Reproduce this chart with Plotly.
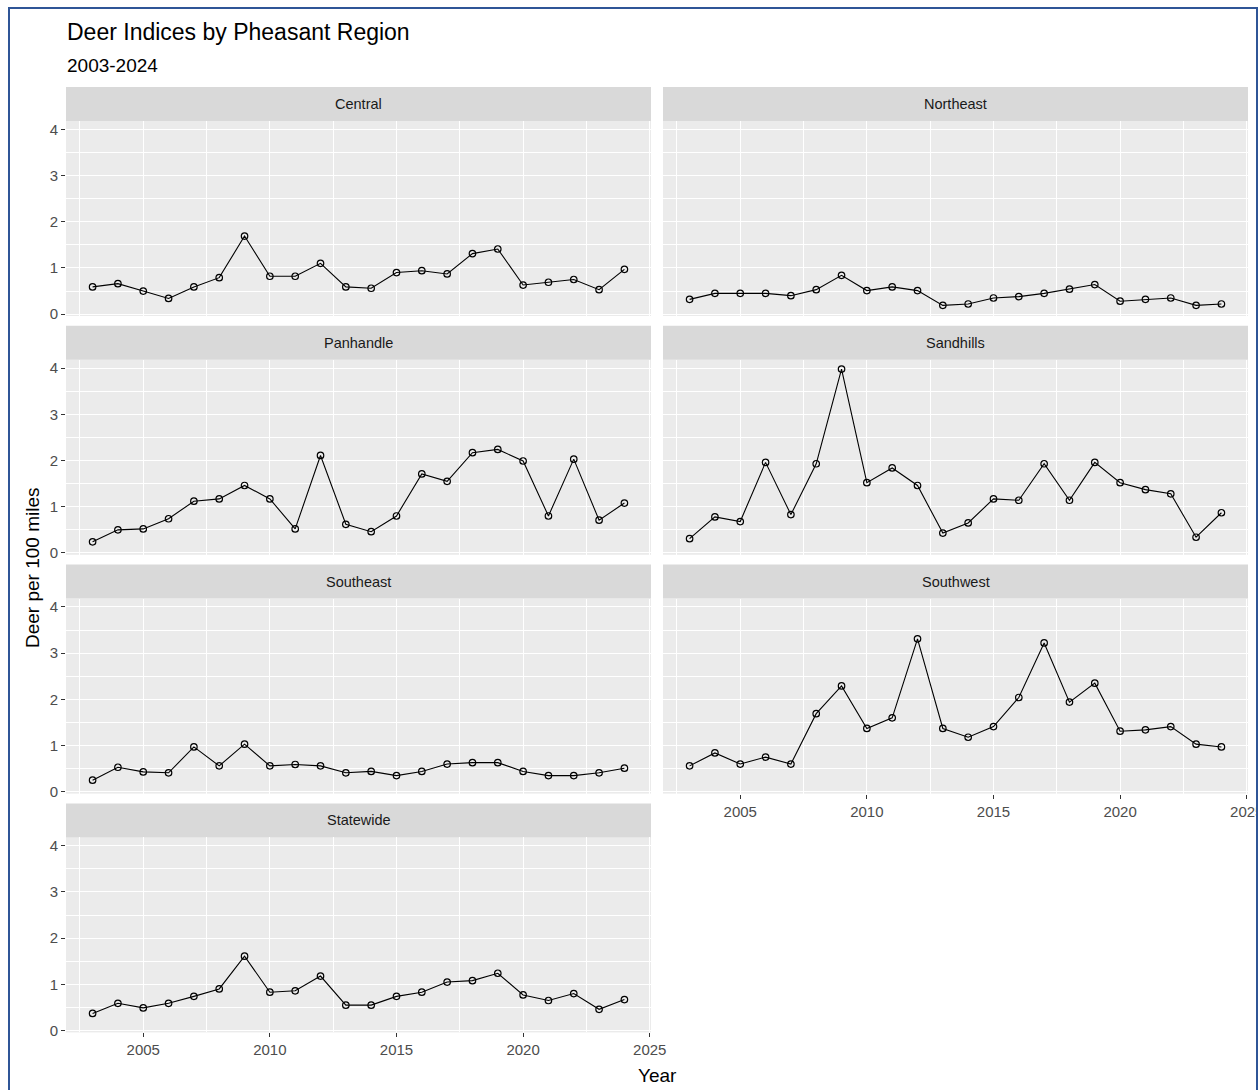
import plotly.graph_objects as go

# Survey years and deer indices (deer per 100 miles) by pheasant region
years = list(range(2003, 2025))

central = [0.59, 0.66, 0.50, 0.34, 0.59, 0.79, 1.69, 0.82, 0.82, 1.10, 0.59,
           0.56, 0.90, 0.94, 0.87, 1.31, 1.41, 0.63, 0.69, 0.75, 0.53, 0.97]
northeast = [0.32, 0.45, 0.45, 0.45, 0.40, 0.53, 0.84, 0.51, 0.59, 0.51, 0.19,
             0.22, 0.35, 0.38, 0.45, 0.54, 0.64, 0.28, 0.32, 0.35, 0.19, 0.22]
panhandle = [0.24, 0.50, 0.52, 0.74, 1.12, 1.17, 1.46, 1.17, 0.52, 2.11, 0.62,
             0.46, 0.80, 1.71, 1.55, 2.17, 2.24, 1.99, 0.80, 2.03, 0.71, 1.08]
sandhills = [0.31, 0.78, 0.68, 1.96, 0.83, 1.93, 3.98, 1.52, 1.84, 1.46, 0.43,
             0.65, 1.17, 1.14, 1.93, 1.14, 1.96, 1.52, 1.37, 1.28, 0.34, 0.87]
southeast = [0.25, 0.53, 0.43, 0.41, 0.97, 0.56, 1.03, 0.56, 0.59, 0.56, 0.41,
             0.44, 0.35, 0.44, 0.60, 0.63, 0.63, 0.44, 0.35, 0.35, 0.41, 0.51]
southwest = [0.56, 0.84, 0.60, 0.75, 0.60, 1.69, 2.29, 1.37, 1.60, 3.31, 1.37,
             1.18, 1.41, 2.04, 3.22, 1.94, 2.35, 1.31, 1.34, 1.41, 1.03, 0.97]
statewide = [0.37, 0.59, 0.49, 0.59, 0.74, 0.90, 1.61, 0.83, 0.86, 1.18, 0.55,
             0.55, 0.74, 0.83, 1.05, 1.08, 1.24, 0.77, 0.65, 0.80, 0.46, 0.67]

regions = ["Central", "Northeast", "Panhandle", "Sandhills",
           "Southeast", "Southwest", "Statewide"]
series = [central, northeast, panhandle, sandhills, southeast, southwest, statewide]

x_ticks = [2005, 2010, 2015, 2020, 2025]
y_ticks = [0, 1, 2, 3, 4]

# ---- page geometry (pixels) ----
W, H = 1259, 1090
FONT = "Liberation Sans, Arial, sans-serif"


def fx(px):
    return px / W


def fy(py):
    return 1 - py / H


cols = [(66, 651), (663, 1248)]
STRIP_TOP0 = 87
ROW_STEP = 238.8
STRIP_H = 34
PANEL_H = 195

# panels that carry x tick labels
x_labelled = {"Southwest", "Statewide"}

fig = go.Figure()
shapes = []
annotations = []

for i, (name, vals) in enumerate(zip(regions, series)):
    r, c = divmod(i, 2)
    x0, x1 = cols[c]
    s_top = STRIP_TOP0 + ROW_STEP * r
    p_top = s_top + STRIP_H
    p_bot = p_top + PANEL_H
    k = "" if i == 0 else str(i + 1)

    show_x = name in x_labelled
    show_y = c == 0

    fig.add_trace(go.Scatter(
        x=years, y=vals, xaxis="x" + k, yaxis="y" + k,
        mode="lines+markers",
        line=dict(color="black", width=1.1),
        marker=dict(symbol="circle-open", size=6.5, color="black",
                    line=dict(width=1.2, color="black")),
        showlegend=False, hoverinfo="x+y",
    ))

    fig.update_layout(**{
        "xaxis" + k: dict(
            domain=[fx(x0), fx(x1)], anchor="y" + k,
            range=[2001.95, 2025.05], automargin=False,
            tickvals=x_ticks, ticktext=[str(v) for v in x_ticks],
            ticklabeloverflow="allow",
            showgrid=True, gridcolor="white", gridwidth=1.1,
            minor=dict(tickvals=[2002.5, 2007.5, 2012.5, 2017.5, 2022.5],
                       showgrid=True, gridcolor="white", gridwidth=0.5, ticks=""),
            zeroline=False, showline=False,
            ticks="outside" if show_x else "", ticklen=4, tickwidth=1,
            tickcolor="#333333",
            showticklabels=show_x,
            tickfont=dict(family=FONT, size=15, color="#4D4D4D"),
            fixedrange=True,
        ),
        "yaxis" + k: dict(
            domain=[fy(p_bot), fy(p_top)], anchor="x" + k,
            range=[-0.04, 4.18], automargin=False,
            tickvals=y_ticks, ticktext=[str(v) for v in y_ticks],
            showgrid=True, gridcolor="white", gridwidth=1.1,
            minor=dict(tickvals=[0.5, 1.5, 2.5, 3.5],
                       showgrid=True, gridcolor="white", gridwidth=0.5, ticks=""),
            zeroline=False, showline=False,
            ticks="outside" if show_y else "", ticklen=4, tickwidth=1,
            tickcolor="#333333",
            showticklabels=show_y,
            tickfont=dict(family=FONT, size=15, color="#4D4D4D"),
            fixedrange=True,
        ),
    })

    # facet strip
    shapes.append(dict(type="rect", xref="paper", yref="paper",
                       x0=fx(x0), x1=fx(x1), y0=fy(s_top + STRIP_H), y1=fy(s_top),
                       fillcolor="#D9D9D9", line=dict(width=0), layer="below"))
    annotations.append(dict(text=name, xref="paper", yref="paper",
                            x=fx((x0 + x1) / 2), y=fy(s_top + STRIP_H / 2),
                            xanchor="center", yanchor="middle", showarrow=False,
                            font=dict(family=FONT, size=14.5, color="#1A1A1A")))

# titles
annotations += [
    dict(text="Deer Indices by Pheasant Region", xref="paper", yref="paper",
         x=fx(65), y=fy(32), xanchor="left", yanchor="middle", showarrow=False,
         font=dict(family=FONT, size=23, color="black")),
    dict(text="2003-2024", xref="paper", yref="paper",
         x=fx(65), y=fy(66), xanchor="left", yanchor="middle", showarrow=False,
         font=dict(family=FONT, size=19, color="black")),
    dict(text="Year", xref="paper", yref="paper",
         x=fx(657), y=fy(1075), xanchor="center", yanchor="middle", showarrow=False,
         font=dict(family=FONT, size=19, color="black")),
    dict(text="Deer per 100 miles", xref="paper", yref="paper",
         x=fx(32), y=fy(568), xanchor="center", yanchor="middle", showarrow=False,
         textangle=-90, font=dict(family=FONT, size=19, color="black")),
]

# outer frame; anything past the right edge of the frame is masked
shapes += [
    dict(type="rect", xref="paper", yref="paper",
         x0=fx(1258), x1=fx(1275), y0=fy(1100), y1=fy(-5),
         fillcolor="white", line=dict(width=0), layer="above"),
    dict(type="rect", xref="paper", yref="paper",
         x0=fx(9), x1=fx(1257), y0=fy(1100), y1=fy(8),
         fillcolor="rgba(0,0,0,0)", line=dict(color="#2F5597", width=2),
         layer="above"),
]

fig.update_layout(
    width=W, height=H,
    margin=dict(l=0, r=0, t=0, b=0, autoexpand=False),
    paper_bgcolor="white", plot_bgcolor="#EBEBEB",
    font=dict(family=FONT),
    shapes=shapes, annotations=annotations,
    showlegend=False,
)

# keep the page exactly the size of the figure (no body margin, no scrollbars)
page_css = ("document.documentElement.style.margin='0';"
            "document.documentElement.style.overflow='hidden';"
            "document.body.style.margin='0';"
            "document.body.style.overflow='hidden';")

fig.write_html("out.html", config={"displayModeBar": False}, post_script=page_css)
